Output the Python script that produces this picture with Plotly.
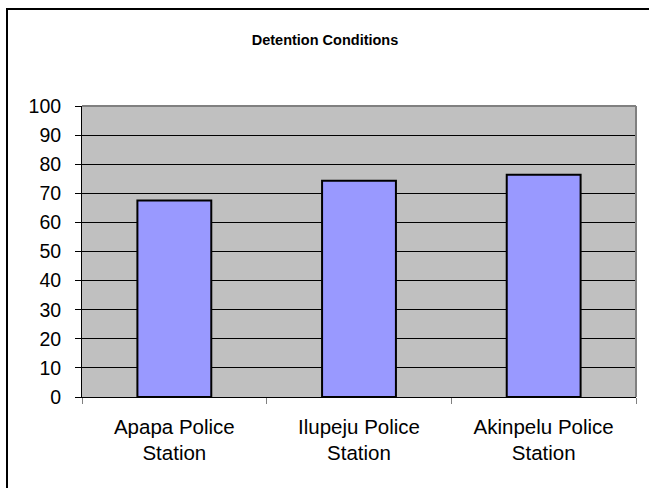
import plotly.graph_objects as go

categories = ["Apapa Police<br>Station", "Ilupeju Police<br>Station", "Akinpelu Police<br>Station"]
values = [67.5, 74.3, 76.4]
y_ticks = [0, 10, 20, 30, 40, 50, 60, 70, 80, 90, 100]

fig = go.Figure(go.Bar(
    x=categories, y=values,
    marker=dict(color="#9999FF", line=dict(color="#000000", width=2)),
))

W, H = 649, 488
L, R, T, B = 82, 13, 106, 91
pw, ph = W - L - R, H - T - B

def px_x(p):
    return (p - L) / pw

def px_y(p):
    return (H - B - p) / ph

fig.update_layout(
    width=W, height=H,
    margin=dict(l=L, r=R, t=T, b=B, pad=0),
    paper_bgcolor="white",
    plot_bgcolor="#C0C0C0",
    bargap=0.6,
    showlegend=False,
    font=dict(family="Liberation Sans, Arial, sans-serif", size=20, color="black"),
    title=dict(text="<b>Detention Conditions</b>", x=325 / W, xref="container", xanchor="center",
               y=1 - 40 / H, yref="container", yanchor="middle", font=dict(size=14.5)),
    xaxis=dict(
        showgrid=False, showline=True, linecolor="black", linewidth=1,
        ticks="outside", tickson="boundaries", ticklen=6, tickcolor="#808080",
        tickfont=dict(size=20.5), fixedrange=True, ticklabelstandoff=11,
    ),
    yaxis=dict(
        range=[0, 100], tickvals=y_ticks, showgrid=True, gridcolor="black", gridwidth=1,
        showline=True, linecolor="black", linewidth=1, ticks="outside", ticklen=6,
        tickcolor="black", zeroline=False, fixedrange=True, tickfont=dict(size=19.5),
        ticklabelstandoff=10,
    ),
    shapes=[
        dict(type="line", xref="paper", yref="paper", x0=0, x1=1, y0=1, y1=1,
             line=dict(color="#808080", width=2)),
        dict(type="line", xref="paper", yref="paper", x0=1, x1=1, y0=0, y1=1,
             line=dict(color="#808080", width=2)),
        dict(type="rect", xref="paper", yref="paper",
             x0=px_x(7), x1=px_x(680), y0=px_y(520), y1=px_y(9),
             line=dict(color="black", width=2), layer="below"),
    ],
)

fig.write_html("out.html", config={"displayModeBar": False},
               post_script="document.body.style.margin='0px';document.body.style.padding='0px';")
